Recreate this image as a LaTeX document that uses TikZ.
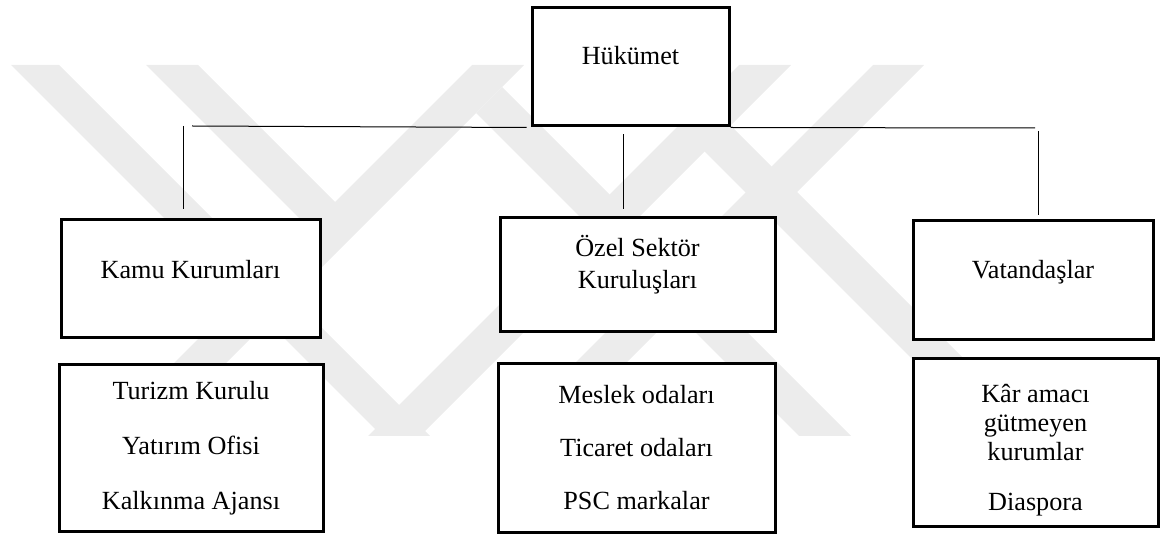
\documentclass[tikz,border=0pt]{standalone}
\usepackage{fontspec}
\setmainfont{Liberation Serif}
\usetikzlibrary{positioning}
\definecolor{wmark}{gray}{0.925}
\tikzset{
	box/.style={draw, line width=3pt, fill=white, inner sep=0pt},
	link/.style={line width=1pt},
	txt/.style={font=\fontsize{26.2}{29}\selectfont, align=center, inner sep=0pt},
}

\begin{document}
\begin{tikzpicture}[x=1pt, y=-1pt]
			%%%%% START %%%%%
			\useasboundingbox (0,0) rectangle (1160,534);
			
			% watermark bands
			\fill[wmark] (11,65) -- (59,65) -- (430,436) -- (382,436) -- cycle;
			\fill[wmark] (146,65) -- (198,65) -- (335,202) -- (335,254) -- cycle;
			\fill[wmark] (472,65) -- (524,65) -- (153,436) -- (101,436) -- cycle;
			\fill[wmark] (502,87) -- (851,436) -- (799,436) -- (476,113) -- cycle;
			\fill[wmark] (618,65) -- (670,65) -- (1041,436) -- (989,436) -- cycle;
			\fill[wmark] (739,65) -- (791,65) -- (420,436) -- (368,436) -- cycle;
			\fill[wmark] (873,65) -- (924,65) -- (553,436) -- (502,436) -- cycle;
			
			% top
			\node[box, minimum width=197pt, minimum height=118pt] (huk) at (630.5,67) {};
			\node[txt, yshift=11pt] (hukT) at (huk) {Hükümet};
			
			% middle row
			\node[box, minimum width=259pt, minimum height=118pt] (kamu) at (190.5,279) {};
			\node[txt, yshift=9pt] (kamuT) at (kamu) {Kamu Kurumları};
			\node[box, minimum width=275pt, minimum height=114pt] (ozel) at (637.5,275) {};
			\node[txt, yshift=10pt] (ozelT) at (ozel) {Özel Sektör\\[3pt]Kuruluşları};
			\node[box, minimum width=240pt, minimum height=119pt] (vat) at (1033,280.5) {};
			\node[txt, yshift=8pt] (vatT) at (vat) {Vatandaşlar};
			
			% bottom row
			\node[box, txt, minimum width=264pt, minimum height=167pt] (turizm) at (191,448)
				{Turizm Kurulu\\[26pt]Yatırım Ofisi\\[26pt]Kalkınma Ajansı};
			\node[box, txt, minimum width=277pt, minimum height=168pt] (meslek) at (636.5,448)
				{Meslek odaları\\[24pt]Ticaret odaları\\[24pt]PSC markalar};
			\node[box, txt, minimum width=245pt, minimum height=167pt] (kar) at (1035.5,442.5)
				{\rule{0pt}{33pt}Kâr amacı\\gütmeyen\\kurumlar\\[21pt]Diaspora};
			
			% connectors
			\coordinate (hl) at (192,126);
			\coordinate (hr) at (1035,128);
			\coordinate (kl) at (183,126);
			\coordinate (vr) at (1038,131);
			\draw[link] (hl) -- ([xshift=-4pt]huk.south west);
			\draw[link] (huk.south east) -- (hr);
			\draw[link, shorten >=9pt] (kl) -- (kl |- kamu.north);
			\draw[link, shorten <=7pt, shorten >=7pt] (huk.south -| 623,0) -- (ozel.north -| 623,0);
			\draw[link, shorten >=4pt] (vr) -- (vr |- vat.north);
			
			%%%%% END %%%%%
\end{tikzpicture}
\end{document}
